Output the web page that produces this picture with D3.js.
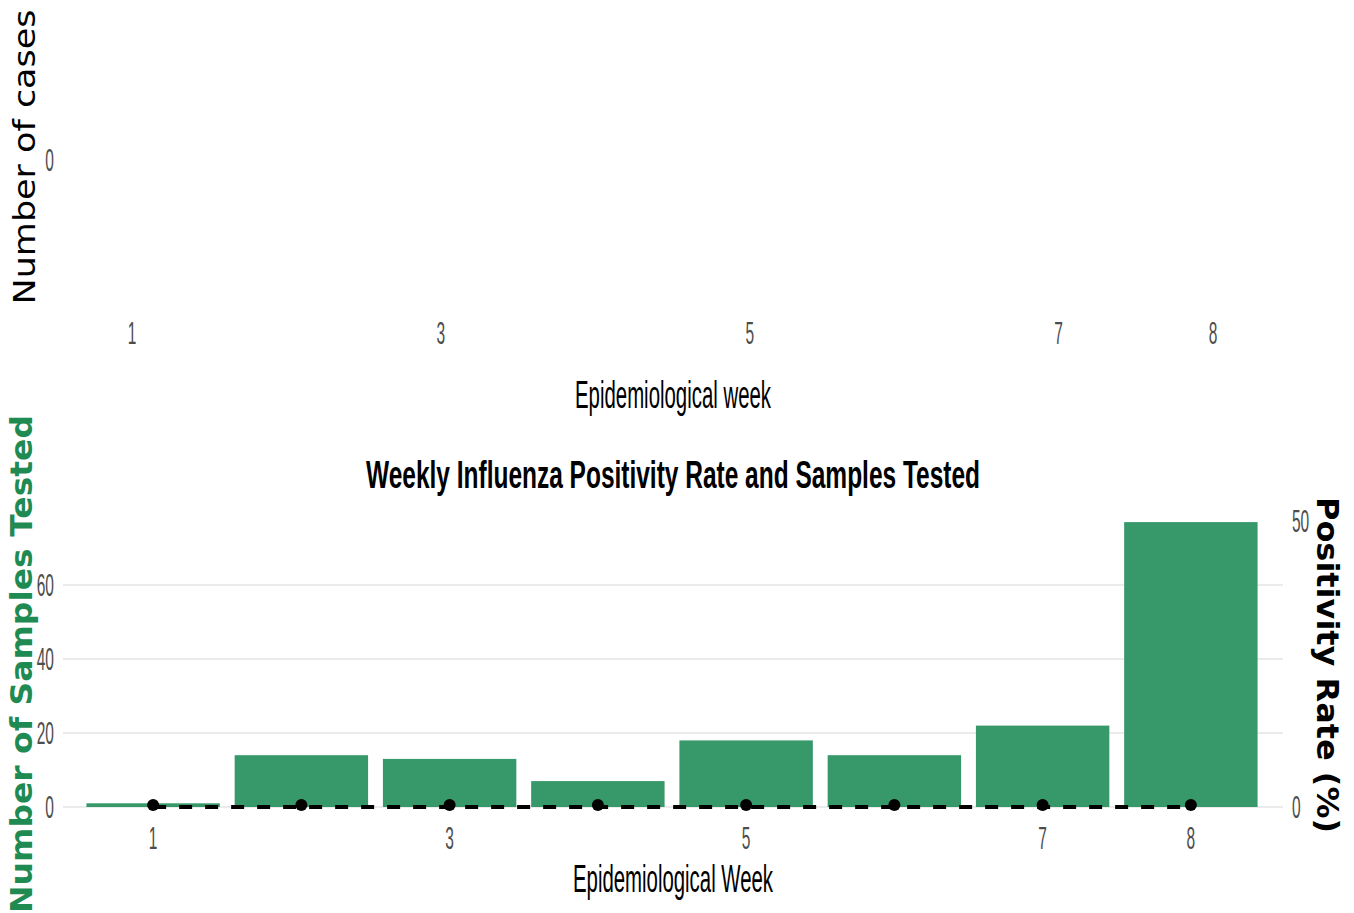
<!DOCTYPE html>
<html>
<head>
<meta charset="utf-8">
<script src="https://cdn.jsdelivr.net/npm/d3@7"></script>
<style>
  html, body { margin: 0; padding: 0; background: #ffffff; }
  svg { display: block; }
</style>
</head>
<body>
<svg id="chart" width="1354" height="913"></svg>
<script>
// ---- data ----
const weeks = [1, 2, 3, 4, 5, 6, 7, 8];
const samplesTested = [1, 14, 13, 7, 18, 14, 22, 77];
const positivityRate = [0, 0, 0, 0, 0, 0, 0, 0];
const weekTickLabels = [1, 3, 5, 7, 8];
const casesTicks = [0];
const samplesTicks = [0, 20, 40, 60];
const rateTicks = [0, 50];
const chartTitle = "Weekly Influenza Positivity Rate and Samples Tested";

(function () {
const svg = d3.select("#chart");
const tickColor = "#4d4d4d";
const barColor = "#37986a";
const labelGreen = "#1f8a52";

// helper for condensed text
function txt(g, x, y, s, opts) {
  const o = Object.assign({ size: 31, sx: 0.5, anchor: "middle", weight: "normal",
    family: "'Liberation Sans', Arial, sans-serif", fill: "#000", rotate: 0, len: null }, opts || {});
  const t = g.append("text")
    .attr("text-anchor", o.anchor)
    .attr("font-family", o.family)
    .attr("font-size", o.size)
    .attr("font-weight", o.weight)
    .attr("fill", o.fill)
    .text(s);
  if (o.len) {
    t.attr("textLength", o.len).attr("lengthAdjust", "spacingAndGlyphs")
     .attr("transform", `translate(${x},${y}) rotate(${o.rotate})`);
  } else {
    t.attr("transform", `translate(${x},${y}) rotate(${o.rotate}) scale(${o.sx},1)`);
  }
  return t;
}

// ================= TOP PANEL (empty cases plot) =================
const topPanel = svg.append("g");
const xTop = d3.scaleLinear().domain([1, 8]).range([132, 1213]);
const yTop = d3.scaleLinear().domain([-1, 1]).range([300, 20]);

casesTicks.forEach(v => txt(topPanel, 54, yTop(v) + 11, String(v), { anchor: "end", fill: tickColor }));
weekTickLabels.forEach(w => txt(topPanel, xTop(w), 344, String(w), { fill: tickColor }));
txt(topPanel, 673, 408, "Epidemiological week", { len: 196, size: 38 });
txt(topPanel, 35, 157, "Number of cases", { rotate: -90, len: 295, size: 30,
  family: "'DejaVu Sans', Verdana, sans-serif" });

// ================= BOTTOM PANEL =================
const bot = svg.append("g");
const x = d3.scaleBand().domain(weeks).range([79, 1265]).paddingInner(0.1).paddingOuter(0.05);
const y = d3.scaleLinear().domain([0, 60]).range([807, 585]);
const yR = d3.scaleLinear().domain([0, 50]).range([807, 521]);
const panelLeft = 63, panelRight = 1283;

// gridlines
bot.append("g").selectAll("line").data(samplesTicks).join("line")
  .attr("x1", panelLeft).attr("x2", panelRight)
  .attr("y1", d => y(d)).attr("y2", d => y(d))
  .attr("stroke", "#ebebeb").attr("stroke-width", 2.2);

// bars
bot.append("g").selectAll("rect").data(weeks).join("rect")
  .attr("x", d => x(d))
  .attr("width", x.bandwidth())
  .attr("y", (d, i) => y(samplesTested[i]))
  .attr("height", (d, i) => y(0) - y(samplesTested[i]))
  .attr("fill", barColor);

// positivity dashed line + points
const line = d3.line()
  .x((d, i) => x(weeks[i]) + x.bandwidth() / 2)
  .y(d => yR(d));
bot.append("path").datum(positivityRate)
  .attr("d", line)
  .attr("fill", "none")
  .attr("stroke", "#000")
  .attr("stroke-width", 3.8)
  .attr("stroke-dasharray", "13,13");
bot.append("g").selectAll("circle").data(positivityRate).join("circle")
  .attr("cx", (d, i) => x(weeks[i]) + x.bandwidth() / 2)
  .attr("cy", d => yR(d) - 2)
  .attr("r", 6)
  .attr("fill", "#000");

// axes tick labels
samplesTicks.forEach(v => txt(bot, 54, y(v) + 11, String(v), { anchor: "end", fill: tickColor }));
rateTicks.forEach(v => txt(bot, 1292, yR(v) + 11, String(v), { anchor: "start", fill: tickColor }));
weekTickLabels.forEach(w => txt(bot, x(w) + x.bandwidth() / 2, 849, String(w), { fill: tickColor }));

// titles
txt(bot, 673, 488, chartTitle, { len: 614, size: 39, weight: "bold" });
txt(bot, 673, 892, "Epidemiological Week", { len: 200, size: 38 });
txt(bot, 32, 664, "Number of Samples Tested", { rotate: -90, len: 498, size: 30, weight: "bold",
  fill: labelGreen, family: "'DejaVu Sans', Verdana, sans-serif" });
txt(bot, 1317, 665, "Positivity Rate (%)", { rotate: 90, len: 336, size: 30, weight: "bold",
  family: "'DejaVu Sans', Verdana, sans-serif" });
})();
</script>
</body>
</html>
